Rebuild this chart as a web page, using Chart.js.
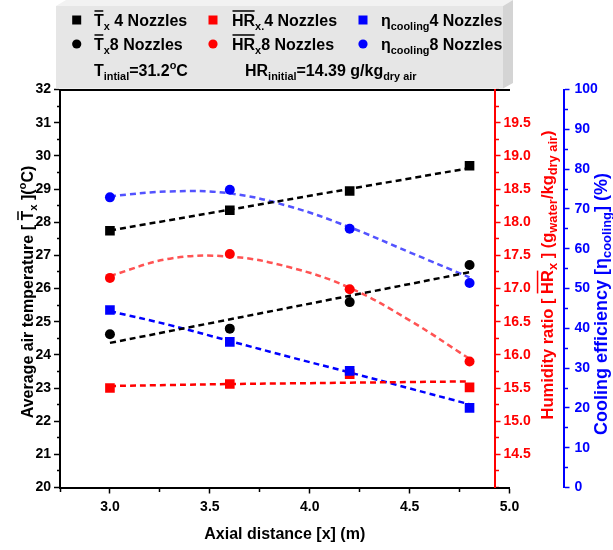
<!DOCTYPE html>
<html>
<head>
<meta charset="utf-8">
<script src="https://cdn.jsdelivr.net/npm/chart.js@4/dist/chart.umd.min.js"></script>
<style>
  body { margin: 0; background: #fff; }
</style>
</head>
<body>
<canvas id="chart" width="613" height="550"></canvas>
<script>
// axial positions of the measuring stations (m)
const distances = [3.0, 3.6, 4.2, 4.8];

// measured values
const temp4 = [27.74, 28.36, 28.94, 29.70];
const temp8 = [24.62, 24.79, 25.59, 26.71];
const hr4 = [15.50, 15.56, 15.71, 15.51];
const hr8 = [17.16, 17.52, 16.99, 15.90];
const eff4 = [44.6, 36.6, 29.3, 20.0];
const eff8 = [72.9, 74.8, 65.0, 51.4];

// fitted trend lines
const lineFitX = [3.0, 4.8];
const temp4Fit = [27.75, 29.63];
const temp8Fit = [24.36, 26.49];
const curveFitX = [3.0, 3.3, 3.6, 3.9, 4.2, 4.5, 4.8];
const hr4Fit = [15.53, 15.545, 15.56, 15.57, 15.58, 15.59, 15.60];
const hr8Fit = [17.19, 17.45, 17.48, 17.32, 17.01, 16.52, 15.94];
const eff4Fit = [44.3, 40.8, 36.8, 32.8, 28.9, 24.9, 20.9];
const eff8Fit = [73.2, 74.4, 73.9, 70.6, 65.4, 59.1, 52.8];

// axis ranges: [min, max, minor step]
const xRange = [2.75, 5.0, 0.25];
const tempRange = [20, 32, 0.5];
const hrRange = [14, 20, 0.25];
const effRange = [0, 100, 5];
const hrAxisAt = 4.925; // humidity axis sits inside the frame

const FONT = '"Liberation Sans", Arial, sans-serif';
const RED = '#ff0000', BLUE = '#0000ff', BLACK = '#000000';

const pts = (xs, ys) => xs.map((x, i) => ({x: x, y: ys[i]}));

function markers(ys, axis, color, style) {
  return {
    data: pts(distances, ys), yAxisID: axis,
    backgroundColor: color, borderColor: color, borderWidth: 0,
    pointStyle: style, pointRadius: style === 'rect' ? 6.8 : 5,
    showLine: false, order: 0
  };
}
function trend(xs, ys, axis, color) {
  return {
    type: 'line', data: pts(xs, ys), yAxisID: axis,
    borderColor: color, borderWidth: 2.5, borderDash: [6, 4],
    pointRadius: 0, tension: 0.4, fill: false, order: 1
  };
}

// minor ticks drawn shorter with a dash trick
function tickDash(isMajor, lead) {
  return ctx => isMajor(ctx.tick.value) ? [] : (lead ? [0, lead, 3, 20] : [3, 20]);
}
function yAxis(pos, range, color, isMajor, label, width, lead, pad) {
  return {
    type: 'linear', position: pos, min: range[0], max: range[1],
    ticks: {
      stepSize: range[2], autoSkip: false, color: color, padding: pad,
      font: {family: FONT, size: 14, weight: 'bold'},
      callback: v => isMajor(v) ? label(v) : ''
    },
    grid: {
      drawOnChartArea: false, tickLength: 6, tickWidth: 1.5, tickColor: color,
      tickBorderDash: tickDash(isMajor, lead)
    },
    border: {color: color, width: 2},
    afterFit: s => { s.width = width; }
  };
}

const halfStep = v => Math.abs(v * 2 - Math.round(v * 2)) < 1e-6;
const wholeStep = v => Math.abs(v - Math.round(v)) < 1e-6;

const scales = {
  x: {
    type: 'linear', position: 'bottom', min: xRange[0], max: xRange[1],
    ticks: {
      stepSize: xRange[2], autoSkip: false, maxRotation: 0, color: BLACK, padding: 5,
      font: {family: FONT, size: 14, weight: 'bold'},
      callback: v => halfStep(v) ? v.toFixed(1) : ''
    },
    grid: {
      drawOnChartArea: false, tickLength: 6, tickWidth: 1.5, tickColor: BLACK,
      tickBorderDash: tickDash(halfStep)
    },
    border: {color: BLACK, width: 2},
    title: {
      display: true, text: 'Axial distance [x] (m)', color: BLACK,
      font: {family: FONT, size: 16, weight: 'bold'}, padding: {top: 0, bottom: 6}
    },
    afterFit: s => { s.height = 62.5; }
  },
  xTop: {
    type: 'linear', position: 'top', min: xRange[0], max: xRange[1],
    ticks: {display: false},
    grid: {drawOnChartArea: false, drawTicks: false},
    border: {color: BLACK, width: 2},
    afterFit: s => { s.height = 0; }
  },
  y: yAxis('left', tempRange, BLACK, wholeStep, v => String(v), 60, 3, 3),
  hr: yAxis('right', hrRange, RED,
    v => halfStep(v) && v > hrRange[0] && v < hrRange[1], v => v.toFixed(1), 54, 0, 3),
  eff: yAxis('right', effRange, BLUE, v => v % 10 === 0, v => String(v), 49.5, 0, 5)
};
scales.eff.weight = 1;

const shiftHr = {
  id: 'shiftHr',
  afterLayout(chart) {
    const s = chart.scales.hr;
    const dx = chart.scales.x.getPixelForValue(hrAxisAt) - s.left;
    s.left += dx;
    s.right += dx;
  }
};

// rich text: parts of [text, kind], kind = n | sub | sup | bar
function drawRich(ctx, parts, x, y, size, color, subRatio, measureOnly) {
  let cx = x;
  for (const [text, kind = 'n'] of parts) {
    const small = kind === 'sub' || kind === 'sup';
    const fs = small ? size * subRatio : size;
    ctx.font = 'bold ' + fs + 'px ' + FONT;
    const w = ctx.measureText(text).width;
    if (!measureOnly) {
      const dy = kind === 'sub' ? size * 0.25 : kind === 'sup' ? -size * 0.42 : 0;
      ctx.fillStyle = color;
      ctx.fillText(text, cx, y + dy);
      if (kind === 'bar') ctx.fillRect(cx + 0.5, y - size * 0.86 - 1.5, w - 1, 1.5);
    }
    cx += w;
  }
  return cx - x;
}

function drawVertical(ctx, parts, baseX, midY, size, color, subRatio) {
  const w = drawRich(ctx, parts, 0, 0, size, color, subRatio, true);
  ctx.save();
  ctx.translate(baseX, midY);
  ctx.rotate(-Math.PI / 2);
  drawRich(ctx, parts, -w / 2, 0, size, color, subRatio);
  ctx.restore();
}

const legendRows = [
  [76.7, 25.5, 'rect', BLACK, 94, [['T', 'bar'], ['x', 'sub'], [' 4 Nozzles']]],
  [76.7, 49.5, 'circle', BLACK, 94, [['T', 'bar'], ['x', 'sub'], ['8 Nozzles']]],
  [213, 25.5, 'rect', RED, 232, [['HR', 'bar'], ['x.', 'sub'], ['4 Nozzles']]],
  [213, 49.5, 'circle', RED, 232, [['HR', 'bar'], ['x', 'sub'], ['8 Nozzles']]],
  [363, 25.5, 'rect', BLUE, 381, [['η'], ['cooling', 'sub'], ['4 Nozzles']]],
  [363, 49.5, 'circle', BLUE, 381, [['η'], ['cooling', 'sub'], ['8 Nozzles']]]
];

const annotations = {
  id: 'annotations',
  afterDraw(chart) {
    const ctx = chart.ctx;
    ctx.save();
    ctx.textAlign = 'left';
    ctx.textBaseline = 'alphabetic';

    // legend box with a 3D bevel
    ctx.fillStyle = '#f2f2f2';
    ctx.beginPath();
    ctx.moveTo(56, 6); ctx.lineTo(66, 0); ctx.lineTo(513, 0); ctx.lineTo(503, 6);
    ctx.closePath(); ctx.fill();
    ctx.fillStyle = '#d4d4d4';
    ctx.beginPath();
    ctx.moveTo(503, 6); ctx.lineTo(513, 0); ctx.lineTo(513, 83); ctx.lineTo(503, 88.5);
    ctx.closePath(); ctx.fill();
    ctx.fillStyle = '#e6e6e6';
    ctx.fillRect(56, 6, 447, 82.5);

    for (const [mx, by, style, color, tx, parts] of legendRows) {
      const my = by - 5.5;
      ctx.fillStyle = color;
      if (style === 'rect') {
        ctx.fillRect(mx - 4.5, my - 4.5, 9, 9);
      } else {
        ctx.beginPath(); ctx.arc(mx, my, 4.6, 0, Math.PI * 2); ctx.fill();
      }
      drawRich(ctx, parts, tx, by, 16, BLACK, 0.68);
    }
    drawRich(ctx, [['T'], ['intial', 'sub'], ['=31.2'], ['o', 'sup'], ['C']], 94, 76, 16, BLACK, 0.68);
    drawRich(ctx, [['HR'], ['initial', 'sub'], ['=14.39 g/kg'], ['dry air', 'sub']], 245, 76, 16, BLACK, 0.68);

    // axis titles
    drawVertical(ctx, [['Average air temperature [ '], ['T', 'bar'], ['x', 'sub'], [' ]('], ['o', 'sup'], ['C)']],
      32.5, 292, 16, BLACK, 0.7);
    drawVertical(ctx, [['Humidity ratio [ '], ['HR', 'bar'], ['x', 'sub'], [' ] (g'], ['water', 'sub'],
      ['/kg'], ['dry air', 'sub'], [')']], 552.5, 275, 16.5, RED, 0.78);
    drawVertical(ctx, [['Cooling efficiency ['], ['η'], ['cooling', 'sub'], ['] (%)']],
      606.5, 304, 18, BLUE, 0.72);
    ctx.restore();
  }
};

new Chart(document.getElementById('chart').getContext('2d'), {
  type: 'scatter',
  data: {
    datasets: [
      markers(eff4, 'eff', BLUE, 'rect'),
      markers(eff8, 'eff', BLUE, 'circle'),
      markers(temp4, 'y', BLACK, 'rect'),
      markers(temp8, 'y', BLACK, 'circle'),
      markers(hr4, 'hr', RED, 'rect'),
      markers(hr8, 'hr', RED, 'circle'),
      trend(lineFitX, temp4Fit, 'y', BLACK),
      trend(lineFitX, temp8Fit, 'y', BLACK),
      trend(curveFitX, hr4Fit, 'hr', RED),
      trend(curveFitX, hr8Fit, 'hr', 'rgba(255,40,40,0.8)'),
      trend(curveFitX, eff4Fit, 'eff', BLUE),
      trend(curveFitX, eff8Fit, 'eff', 'rgba(40,40,255,0.8)')
    ]
  },
  options: {
    responsive: false,
    animation: false,
    layout: {padding: {top: 89.5, left: 0, right: 0, bottom: 0}},
    plugins: {legend: {display: false}, tooltip: {enabled: false}},
    scales: scales
  },
  plugins: [shiftHr, annotations]
});
</script>
</body>
</html>
